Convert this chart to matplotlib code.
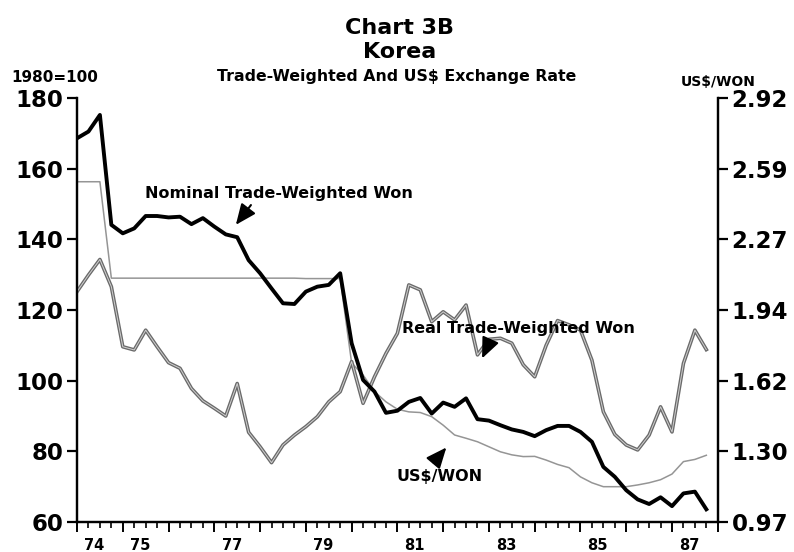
import numpy as np
import matplotlib
matplotlib.use("Agg")
import matplotlib.pyplot as plt
import matplotlib.patheffects as pe

# ---------------- data (quarterly, 1974Q1 .. 1987Q4) ----------------
start_year = 1974
end_year = 1988

nominal_tw = [168.6, 170.5, 175.2, 144.1, 141.7, 143.1, 146.6, 146.6,
              146.2, 146.4, 144.3, 146.0, 143.6, 141.4, 140.6, 134.1,
              130.4, 126.1, 121.9, 121.7, 125.2, 126.6, 127.1, 130.4,
              110.6, 100.2, 96.9, 90.9, 91.5, 94.0, 95.1, 90.7,
              93.8, 92.6, 95.0, 89.1, 88.7, 87.4, 86.2, 85.5,
              84.3, 86.0, 87.2, 87.2, 85.5, 82.7, 75.6, 72.8,
              69.0, 66.4, 65.1, 67.0, 64.5, 68.1, 68.6, 63.6]

real_tw = [125.2, 129.9, 134.3, 126.6, 109.6, 108.7, 114.3, 109.6,
           105.1, 103.5, 97.8, 94.3, 92.2, 90.0, 99.2, 85.4,
           81.3, 76.8, 81.8, 84.6, 87.0, 89.8, 94.0, 96.9,
           105.4, 93.6, 101.1, 107.7, 113.4, 127.1, 125.7, 116.7,
           119.5, 117.2, 121.4, 107.3, 111.7, 112.0, 110.6, 104.5,
           101.1, 110.0, 117.0, 115.8, 114.3, 105.8, 91.2, 84.8,
           81.8, 80.4, 84.6, 92.6, 85.5, 104.9, 114.3, 108.8]

# US$/WON (right-hand scale)
usd_won = [2.532, 2.532, 2.532, 2.090, 2.090, 2.090, 2.090, 2.090,
           2.090, 2.090, 2.090, 2.090, 2.090, 2.090, 2.090, 2.090,
           2.090, 2.090, 2.090, 2.090, 2.088, 2.088, 2.088, 2.088,
           1.701, 1.646, 1.570, 1.523, 1.489, 1.477, 1.474, 1.455,
           1.416, 1.371, 1.356, 1.340, 1.317, 1.294, 1.280, 1.272,
           1.273, 1.256, 1.236, 1.221, 1.179, 1.152, 1.134, 1.134,
           1.134, 1.142, 1.152, 1.166, 1.192, 1.249, 1.259, 1.278]

left_ticks = [60, 80, 100, 120, 140, 160, 180]
right_factor = 0.0162          # US$/WON units per index point
year_labels = ["74", "75", "77", "79", "81", "83", "85", "87"]
label_years = [1974, 1975, 1977, 1979, 1981, 1983, 1985, 1987]

# ---------------- figure ----------------
plt.rcParams['font.family'] = ['DejaVu Sans']
plt.rcParams['font.weight'] = 'bold'

fig = plt.figure(figsize=(7.94, 5.52), dpi=100)
ax = fig.add_axes([0.097, 0.0543, 0.807, 0.7682])
ax2 = ax.twinx()
ax.set_zorder(ax2.get_zorder() + 1)
ax.patch.set_visible(False)

x = start_year + np.arange(len(nominal_tw)) / 4.0

# US$/WON thin light line (right axis)
ax2.plot(x, usd_won, color='#959595', lw=1.1, solid_joinstyle='round')
# Real trade-weighted: outlined grey line
ax.plot(x, real_tw, color='#d0d0d0', lw=0.7, solid_joinstyle='round',
        path_effects=[pe.Stroke(linewidth=2.6, foreground='#6a6a6a'), pe.Normal()])
# Nominal trade-weighted: heavy black line
ax.plot(x, nominal_tw, color='black', lw=2.8, solid_joinstyle='round')

ax.set_xlim(start_year, end_year)
ax.set_ylim(left_ticks[0], left_ticks[-1])
ax2.set_ylim(left_ticks[0] * right_factor, left_ticks[-1] * right_factor)

# spines
for a in (ax, ax2):
    a.spines['top'].set_visible(False)
    for s in ('left', 'right', 'bottom'):
        a.spines[s].set_linewidth(1.6)
        a.spines[s].set_color('black')

# y ticks
ax.set_yticks(left_ticks)
ax.set_yticklabels([str(v) for v in left_ticks])
ax.tick_params(axis='y', direction='out', length=7, width=1.6,
               labelsize=16.5, pad=3)
rt = [v * right_factor for v in left_ticks]
ax2.set_yticks(rt)
ax2.set_yticklabels([f"{v:.2f}" for v in rt])
ax2.tick_params(axis='y', direction='out', length=7, width=1.6,
                labelsize=16.5, pad=3)

# x ticks
ax.set_xticks(np.arange(start_year, end_year + 1))
ax.set_xticklabels([])
ax.set_xticks(np.arange(start_year, end_year, 0.25), minor=True)
ax.tick_params(axis='x', which='major', direction='out', length=7, width=1.4)
ax.tick_params(axis='x', which='minor', direction='out', length=4, width=1.2)
ax2.tick_params(axis='x', which='both', length=0)
for yr, lab in zip(label_years, year_labels):
    ax.text(yr + 0.38, -0.055, lab, transform=ax.get_xaxis_transform(),
            ha='center', va='center', fontsize=10.5, fontweight='bold')

# titles
fig.text(0.503, 0.950, "Chart 3B", ha='center', va='center', fontsize=16, fontweight='bold')
fig.text(0.503, 0.905, "Korea", ha='center', va='center', fontsize=16, fontweight='bold')
fig.text(0.500, 0.862, "Trade-Weighted And US$ Exchange Rate", ha='center', va='center',
         fontsize=11.3, fontweight='bold')
fig.text(0.069, 0.860, "1980=100", ha='center', va='center', fontsize=11, fontweight='bold')
fig.text(0.904, 0.852, "US$/WON", ha='center', va='center', fontsize=10, fontweight='bold')

# annotations
arrow = dict(arrowstyle='-|>,head_length=0.7,head_width=0.3', color='black',
             lw=1.5, mutation_scale=18, shrinkA=0, shrinkB=0)
ax.text(1975.48, 153.0, "Nominal Trade-Weighted Won", ha='left', va='center',
        fontsize=11.5, fontweight='bold')
ax.annotate("", xy=(1977.47, 144.1), xytext=(1977.80, 149.7), arrowprops=arrow)
ax.text(1981.10, 114.8, "Real Trade-Weighted Won", ha='left', va='center',
        fontsize=11.5, fontweight='bold')
ax.annotate("", xy=(1982.85, 106.3), xytext=(1983.03, 111.5), arrowprops=arrow)
ax.text(1980.98, 72.8, "US$/WON", ha='left', va='center',
        fontsize=11.5, fontweight='bold')
ax.annotate("", xy=(1982.07, 81.1), xytext=(1981.79, 76.8), arrowprops=arrow)

fig.savefig("out.png", dpi=100, facecolor='white')
